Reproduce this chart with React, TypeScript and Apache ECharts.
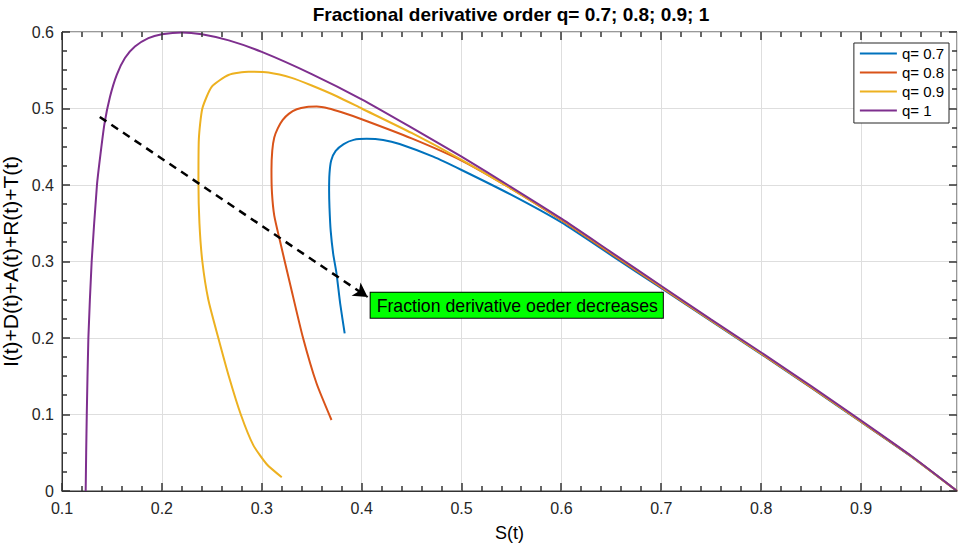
import React, { useEffect, useRef } from "react";
import * as echarts from "echarts";

const titleText = "Fractional derivative order q= 0.7; 0.8; 0.9; 1";
const xName = "S(t)";
const yName = "I(t)+D(t)+A(t)+R(t)+T(t)";
const seriesNames = ["q= 0.7", "q= 0.8", "q= 0.9", "q= 1"];
const colors = ["#0072BD", "#D95319", "#EDB120", "#7E2F8E"];

const xTicks = { min: 0.1, max: 0.996, step: 0.1, minorSplit: 5 };
const yTicks = { min: 0, max: 0.6, step: 0.1, minorSplit: 4 };

// trajectories in time order: start near S=1, end at the left
const q07: number[][] = [
  [0.996, 0], [0.95, 0.0452], [0.9, 0.0903], [0.85, 0.135], [0.8, 0.179], [0.75, 0.222],
  [0.7, 0.265], [0.65, 0.308], [0.6, 0.351], [0.55, 0.387], [0.5, 0.4196], [0.4716, 0.437],
  [0.438, 0.4536], [0.4215, 0.4588], [0.405, 0.4603], [0.392, 0.459], [0.382, 0.4535],
  [0.374, 0.4445], [0.3695, 0.432], [0.3678, 0.415], [0.3674, 0.393], [0.3678, 0.37],
  [0.369, 0.34], [0.3715, 0.31], [0.3748, 0.2846], [0.3785, 0.245], [0.383, 0.206],
];
const q08: number[][] = [
  [0.996, 0], [0.95, 0.0455], [0.9, 0.0905], [0.85, 0.1355], [0.8, 0.1795], [0.75, 0.2225],
  [0.7, 0.266], [0.65, 0.31], [0.6, 0.354], [0.55, 0.395], [0.5, 0.432], [0.45, 0.461],
  [0.4, 0.486], [0.38, 0.495], [0.367, 0.5], [0.355, 0.5025], [0.345, 0.502], [0.335, 0.499],
  [0.327, 0.493], [0.321, 0.485], [0.316, 0.474], [0.3125, 0.462], [0.3105, 0.445],
  [0.3097, 0.42], [0.3102, 0.39], [0.3125, 0.36], [0.318, 0.328], [0.329, 0.267],
  [0.341, 0.2017], [0.3548, 0.1408], [0.3698, 0.0928],
];
const q09: number[][] = [
  [0.996, 0], [0.95, 0.0455], [0.9, 0.091], [0.85, 0.136], [0.8, 0.18], [0.75, 0.223],
  [0.7, 0.267], [0.65, 0.311], [0.6, 0.355], [0.55, 0.395], [0.5, 0.433], [0.45, 0.468],
  [0.4, 0.5], [0.375, 0.516], [0.35, 0.53], [0.33, 0.54], [0.3067, 0.547], [0.2867, 0.548],
  [0.2667, 0.5438], [0.25, 0.5285], [0.2405, 0.5], [0.237, 0.46], [0.2366, 0.404],
  [0.2376, 0.35], [0.2405, 0.3], [0.2465, 0.25], [0.2565, 0.2], [0.267, 0.15], [0.279, 0.1],
  [0.2915, 0.06], [0.305, 0.035], [0.32, 0.018],
];
const q10: number[][] = [
  [0.996, 0], [0.95, 0.046], [0.9, 0.092], [0.85, 0.137], [0.8, 0.181], [0.75, 0.224],
  [0.7, 0.268], [0.65, 0.312], [0.6, 0.356], [0.55, 0.397], [0.5, 0.437], [0.45, 0.475],
  [0.4, 0.512], [0.35, 0.545], [0.3, 0.574], [0.267, 0.589], [0.24, 0.597], [0.22, 0.5995],
  [0.2, 0.597], [0.1865, 0.592], [0.173, 0.581], [0.163, 0.566], [0.1548, 0.544],
  [0.148, 0.515], [0.1425, 0.48], [0.1385, 0.44], [0.135, 0.4], [0.1297, 0.3], [0.1264, 0.2],
  [0.1248, 0.1], [0.1242, 0.05], [0.1237, 0],
];
const seriesData = [q07, q08, q09, q10];

const arrowFrom = [0.1378, 0.489];
const arrowTo = [0.406, 0.2536];
const noteText = "Fraction derivative oeder decreases";
const noteAt = [0.409, 0.259];

const FONT = "'Liberation Sans', Arial, Helvetica, sans-serif";
const AXIS_COLOR = "#333333";
const GRID_COLOR = "#dedede";
const MAJOR_LEN = 8;
const MINOR_LEN = 5;

// tick values of the boxed frame, in axis units
function tickValues(t: { min: number; max: number; step: number; minorSplit: number }) {
  const out: { v: number; major: boolean }[] = [];
  const s = t.step / t.minorSplit;
  for (let k = 0; ; k++) {
    const v = +(t.min + k * s).toFixed(6);
    if (v > t.max + 1e-9) break;
    out.push({ v, major: k % t.minorSplit === 0 });
  }
  return out;
}

export default function App() {
  const ref = useRef<HTMLDivElement>(null);
  useEffect(() => {
    if (!ref.current) return;
    const chart = echarts.init(ref.current, undefined, { renderer: "svg" });
    const lineSeries = seriesData.map((d, i) => ({
      name: seriesNames[i],
      type: "line",
      data: d,
      showSymbol: false,
      symbol: "none",
      smooth: 0.2,
      lineStyle: { color: colors[i], width: 2 },
      itemStyle: { color: colors[i] },
      z: 2 + i,
      markLine:
        i === seriesData.length - 1
          ? {
              silent: true,
              symbol: ["none", "arrow"],
              symbolSize: [12, 14],
              label: { show: false },
              lineStyle: { color: "#000", width: 2.5, type: [8, 6] },
              data: [[{ coord: arrowFrom }, { coord: arrowTo }]],
              z: 10,
            }
          : undefined,
    }));
    chart.setOption({
      animation: false,
      textStyle: { fontFamily: FONT },
      title: {
        text: titleText,
        left: 511,
        textAlign: "center",
        top: 5,
        padding: 0,
        textStyle: { fontFamily: FONT, fontSize: 19, fontWeight: "bold", color: "#000" },
      },
      legend: {
        data: seriesNames,
        orient: "vertical",
        right: 9,
        top: 43,
        icon: "rect",
        itemWidth: 37,
        itemHeight: 2,
        itemGap: 4,
        padding: [3, 5, 5, 6],
        borderColor: "#262626",
        borderWidth: 1,
        backgroundColor: "#fff",
        textStyle: { fontFamily: FONT, fontSize: 15, lineHeight: 15, color: "#000" },
      },
      grid: {
        left: 62, right: 1, top: 32, bottom: 56, containLabel: false, outerBoundsMode: "none",
        show: true, borderColor: AXIS_COLOR, borderWidth: 1, backgroundColor: "transparent",
      },
      xAxis: {
        type: "value",
        min: xTicks.min, max: xTicks.max, interval: xTicks.step,
        name: xName,
        nameLocation: "middle",
        nameGap: 33,
        nameTextStyle: { fontFamily: FONT, fontSize: 18, color: "#000" },
        axisLine: { show: true, onZero: false, lineStyle: { color: AXIS_COLOR, width: 1 } },
        axisTick: { show: false },
        minorTick: { show: false },
        axisLabel: { fontFamily: FONT, fontSize: 16, color: "#262626", margin: 9, showMaxLabel: false },
        splitLine: { show: true, lineStyle: { color: GRID_COLOR, width: 1 } },
      },
      yAxis: {
        type: "value",
        min: yTicks.min, max: yTicks.max, interval: yTicks.step,
        name: yName,
        nameLocation: "middle",
        nameRotate: 90,
        nameGap: 33,
        nameTextStyle: { fontFamily: FONT, fontSize: 21, color: "#000" },
        axisLine: { show: true, onZero: false, lineStyle: { color: AXIS_COLOR, width: 1 } },
        axisTick: { show: false },
        minorTick: { show: false },
        axisLabel: { fontFamily: FONT, fontSize: 16, color: "#262626", margin: 8 },
        splitLine: { show: true, lineStyle: { color: GRID_COLOR, width: 1 } },
      },
      series: lineSeries,
    });

    const toPx = (pt: number[]) =>
      chart.convertToPixel({ xAxisIndex: 0, yAxisIndex: 0 }, pt) as number[];
    const fill = { fill: AXIS_COLOR };
    const ticks: any[] = [];
    // inward ticks on all four edges of the box, drawn as thin filled rects
    tickValues(xTicks).forEach(({ v, major }) => {
      const len = major ? MAJOR_LEN : MINOR_LEN;
      const b = toPx([v, yTicks.min]);
      const t = toPx([v, yTicks.max]);
      const x = Math.round(b[0]) - 0.75;
      ticks.push({ type: "rect", silent: true, z: 15, shape: { x, y: b[1] - len, width: 1.5, height: len }, style: fill });
      ticks.push({ type: "rect", silent: true, z: 15, shape: { x, y: t[1], width: 1.5, height: len }, style: fill });
    });
    tickValues(yTicks).forEach(({ v, major }) => {
      const len = major ? MAJOR_LEN : MINOR_LEN;
      const l = toPx([xTicks.min, v]);
      const r = toPx([xTicks.max, v]);
      const y = Math.round(l[1]) - 0.75;
      ticks.push({ type: "rect", silent: true, z: 15, shape: { x: l[0], y, width: len, height: 1.5 }, style: fill });
      ticks.push({ type: "rect", silent: true, z: 15, shape: { x: r[0] - len, y, width: len, height: 1.5 }, style: fill });
    });
    const p = toPx(noteAt);
    chart.setOption({
      graphic: [
        ...ticks,
        {
          type: "text",
          x: p[0],
          y: p[1],
          z: 20,
          style: {
            text: noteText,
            font: `17.7px ${FONT}`,
            fill: "#000",
            backgroundColor: "#00ff00",
            borderColor: "#000",
            borderWidth: 1,
            padding: [4, 5, 3, 6],
          },
        },
      ],
    });
    return () => chart.dispose();
  }, []);
  return (
    <div
      ref={ref}
      style={{ position: "fixed", left: 0, top: 0, width: 958, height: 547, background: "#fff" }}
    />
  );
}
